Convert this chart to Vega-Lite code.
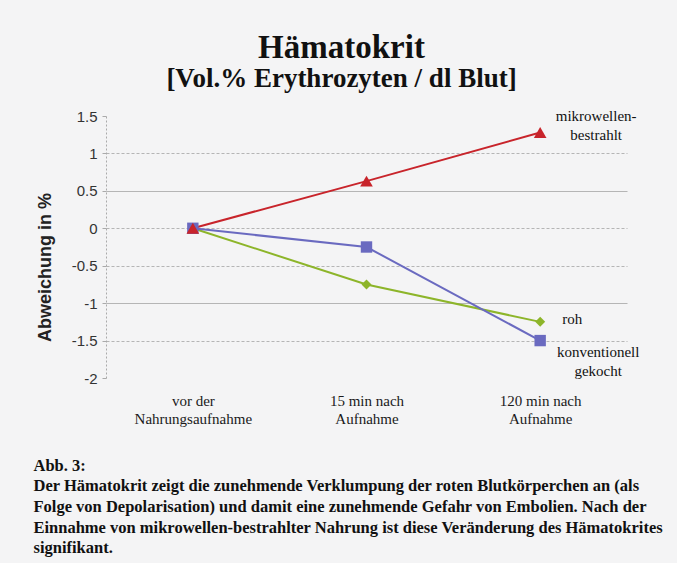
{
  "$schema": "https://vega.github.io/schema/vega-lite/v6.json",
  "width": 521,
  "height": 262,
  "autosize": {"type": "none"},
  "padding": {"left": 106, "top": 116, "right": 50, "bottom": 185},
  "background": "#f4f4f5",
  "config": {"view": {"stroke": null}},
  "title": {
    "text": "Hämatokrit",
    "subtitle": "[Vol.% Erythrozyten / dl Blut]",
    "anchor": "middle",
    "frame": "group",
    "dx": -25,
    "offset": 17,
    "font": "Liberation Serif",
    "fontSize": 33,
    "fontWeight": "bold",
    "color": "#111111",
    "subtitleFont": "Liberation Serif",
    "subtitleFontSize": 27,
    "subtitleFontWeight": "bold",
    "subtitleColor": "#111111",
    "subtitlePadding": 1
  },
  "data": {
    "values": [
      {"zeit": "vor der|Nahrungsaufnahme", "serie": "roh", "wert": 0},
      {"zeit": "15 min nach|Aufnahme", "serie": "roh", "wert": -0.75},
      {"zeit": "120 min nach|Aufnahme", "serie": "roh", "wert": -1.25},
      {"zeit": "vor der|Nahrungsaufnahme", "serie": "konventionell gekocht", "wert": 0},
      {"zeit": "15 min nach|Aufnahme", "serie": "konventionell gekocht", "wert": -0.25},
      {"zeit": "120 min nach|Aufnahme", "serie": "konventionell gekocht", "wert": -1.5},
      {"zeit": "vor der|Nahrungsaufnahme", "serie": "mikrowellen-bestrahlt", "wert": 0},
      {"zeit": "15 min nach|Aufnahme", "serie": "mikrowellen-bestrahlt", "wert": 0.63},
      {"zeit": "120 min nach|Aufnahme", "serie": "mikrowellen-bestrahlt", "wert": 1.28}
    ]
  },
  "encoding": {
    "x": {
      "field": "zeit",
      "type": "ordinal",
      "sort": null,
      "scale": {"type": "point", "padding": 0.5},
      "axis": {
        "labelExpr": "split(datum.label, '|')",
        "labelAngle": 0,
        "labelFont": "Liberation Serif",
        "labelFontSize": 15,
        "labelColor": "#1a1a1a",
        "labelLineHeight": 18,
        "labelPadding": 15,
        "domain": false,
        "ticks": false,
        "grid": false,
        "title": [
          "Abb. 3:",
          "Der Hämatokrit zeigt die zunehmende Verklumpung der roten Blutkörperchen an (als",
          "Folge von Depolarisation) und damit eine zunehmende Gefahr von Embolien. Nach der",
          "Einnahme von mikrowellen-bestrahlter Nahrung ist diese Veränderung des Hämatokrites",
          "signifikant."
        ],
        "titleFont": "Liberation Serif",
        "titleFontSize": 16.5,
        "titleFontWeight": "bold",
        "titleColor": "#111111",
        "titleLineHeight": 20.7,
        "titleAnchor": "start",
        "titleAlign": "left",
        "titleBaseline": "top",
        "titleX": -73,
        "titleY": 79
      }
    },
    "y": {
      "field": "wert",
      "type": "quantitative",
      "scale": {"domain": [-2, 1.5], "nice": false, "zero": false},
      "axis": {
        "values": [-2, -1.5, -1, -0.5, 0, 0.5, 1, 1.5],
        "labelExpr": "toString(datum.value)",
        "labelFont": "Liberation Sans",
        "labelFontSize": 15,
        "labelColor": "#333333",
        "labelPadding": 5,
        "tickSize": 4,
        "tickColor": "#aaaaaa",
        "domainColor": "#aaaaaa",
        "domainDash": [2, 2],
        "grid": true,
        "gridColor": "#b5b5b5",
        "gridDash": {"condition": {"test": "datum.value == 0.5 || datum.value == -1", "value": []}, "value": [3, 2]},
        "gridOpacity": {"condition": {"test": "datum.value == 1.5 || datum.value == -2", "value": 0}, "value": 1},
        "title": "Abweichung in %",
        "titleFont": "Liberation Sans",
        "titleFontSize": 18,
        "titleFontWeight": "bold",
        "titleColor": "#222222",
        "titleX": -52,
        "titleY": 151
      }
    },
    "color": {
      "field": "serie",
      "type": "nominal",
      "scale": {"domain": ["roh", "konventionell gekocht", "mikrowellen-bestrahlt"], "range": ["#8db52a", "#6a6ac0", "#c8242b"]},
      "legend": null
    }
  },
  "layer": [
    {"mark": {"type": "line", "strokeWidth": 2}},
    {
      "mark": {"type": "point", "filled": true, "opacity": 1},
      "encoding": {
        "shape": {"field": "serie", "type": "nominal", "scale": {"domain": ["roh", "konventionell gekocht", "mikrowellen-bestrahlt"], "range": ["diamond", "square", "triangle-up"]}, "legend": null},
        "size": {"field": "serie", "type": "nominal", "scale": {"domain": ["roh", "konventionell gekocht", "mikrowellen-bestrahlt"], "range": [100, 160, 50]}, "legend": null}
      }
    },
    {
      "transform": [{"filter": "datum.serie == 'mikrowellen-bestrahlt' && datum.wert > 1"}],
      "mark": {"type": "text", "font": "Liberation Serif", "fontSize": 15, "align": "center", "baseline": "top", "lineBreak": "\n", "lineHeight": 19, "dx": 56, "dy": -23},
      "encoding": {"text": {"value": "mikrowellen-\nbestrahlt"}, "color": {"value": "#111111"}}
    },
    {
      "transform": [{"filter": "datum.serie == 'roh' && datum.wert < -1"}],
      "mark": {"type": "text", "font": "Liberation Serif", "fontSize": 15, "align": "left", "baseline": "middle", "dx": 22, "dy": -3},
      "encoding": {"text": {"value": "roh"}, "color": {"value": "#111111"}}
    },
    {
      "transform": [{"filter": "datum.serie == 'konventionell gekocht' && datum.wert < -1"}],
      "mark": {"type": "text", "font": "Liberation Serif", "fontSize": 15, "align": "center", "baseline": "top", "lineBreak": "\n", "lineHeight": 19, "dx": 58, "dy": 4},
      "encoding": {"text": {"value": "konventionell\ngekocht"}, "color": {"value": "#111111"}}
    }
  ]
}
